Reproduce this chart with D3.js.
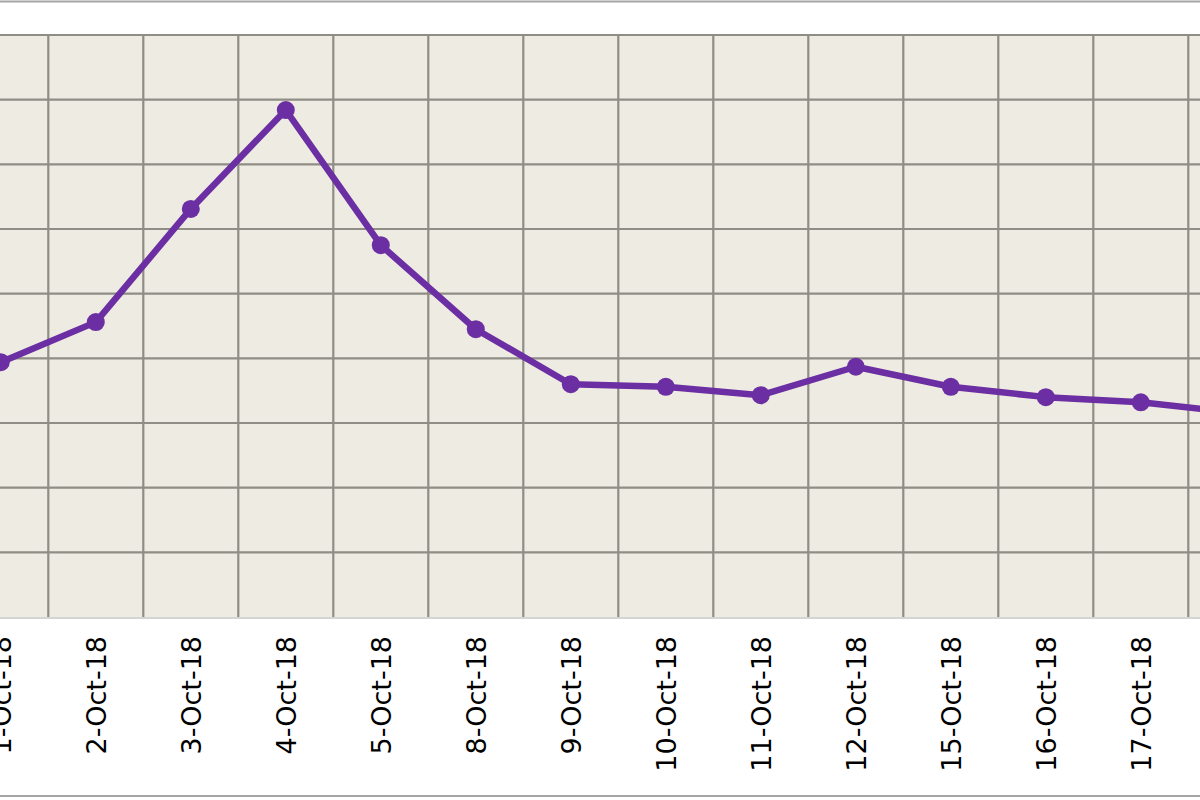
<!DOCTYPE html>
<html>
<head>
<meta charset="utf-8">
<script src="https://cdn.jsdelivr.net/npm/d3@7"></script>
<style>
  body { margin: 0; background: #fff; }
  svg { display: block; }
</style>
</head>
<body>
<div id="chart"></div>
<script>
var dates = ["1-Oct-18", "2-Oct-18", "3-Oct-18", "4-Oct-18", "5-Oct-18", "8-Oct-18", "9-Oct-18",
             "10-Oct-18", "11-Oct-18", "12-Oct-18", "15-Oct-18", "16-Oct-18", "17-Oct-18", "18-Oct-18"]
var values = [39.4, 45.6, 63.1, 78.4, 57.5, 44.5, 36.0, 35.6, 34.3, 38.7, 35.6, 34.0, 33.2, 31.6]
var yTicks = [0, 10, 20, 30, 40, 50, 60, 70, 80, 90]

var width = 1200, height = 800
var plot = {left: -46.7, right: 1283.3, top: 35, bottom: 617}

var svg = d3.select("#chart").append("svg")
    .attr("width", width)
    .attr("height", height)

// outer frame lines
svg.append("line").attr("x1", 0).attr("x2", width).attr("y1", 1.5).attr("y2", 1.5)
    .attr("stroke", "#a6a6a6").attr("stroke-width", 2)
svg.append("line").attr("x1", 0).attr("x2", width).attr("y1", 796).attr("y2", 796)
    .attr("stroke", "#a6a6a6").attr("stroke-width", 2)

var x = d3.scaleBand()
    .domain(dates)
    .range([plot.left, plot.right])
    .padding(0)

var y = d3.scaleLinear()
    .domain([0, 90])
    .range([plot.bottom, plot.top])

svg.append("rect")
    .attr("x", plot.left)
    .attr("y", plot.top)
    .attr("width", plot.right - plot.left)
    .attr("height", plot.bottom - plot.top)
    .attr("fill", "#eeece2")

// horizontal grid
svg.append("g").selectAll("line")
    .data(yTicks.slice(1))
    .join("line")
    .attr("x1", plot.left).attr("x2", plot.right)
    .attr("y1", d => y(d)).attr("y2", d => y(d))
    .attr("stroke", "#8f8d86").attr("stroke-width", 2.2)

// vertical grid at category boundaries
svg.append("g").selectAll("line")
    .data(dates.slice(1))
    .join("line")
    .attr("x1", d => x(d)).attr("x2", d => x(d))
    .attr("y1", plot.top).attr("y2", plot.bottom)
    .attr("stroke", "#8f8d86").attr("stroke-width", 2.2)

// bottom edge of plot
svg.append("line")
    .attr("x1", plot.left).attr("x2", plot.right)
    .attr("y1", plot.bottom + 1).attr("y2", plot.bottom + 1)
    .attr("stroke", "#d4d4d4").attr("stroke-width", 2)

// x axis labels (rotated)
var xAxis = svg.append("g")
    .attr("transform", "translate(0," + plot.bottom + ")")
    .call(d3.axisBottom(x).tickSize(0).tickPadding(0))
xAxis.select(".domain").remove()
xAxis.selectAll("text")
    .attr("transform", "rotate(-90)")
    .attr("x", -19)
    .attr("y", 0)
    .attr("dy", "0.36em")
    .attr("text-anchor", "end")
    .attr("fill", "#000")
    .style("font-family", "'DejaVu Sans', Verdana, sans-serif")
    .style("font-size", "27px")

var cx = d => x(d) + x.bandwidth() / 2

var line = d3.line()
    .x((d, i) => cx(dates[i]))
    .y(d => y(d))

svg.append("path")
    .datum(values)
    .attr("d", line)
    .attr("fill", "none")
    .attr("stroke", "#6c2fa3")
    .attr("stroke-width", 6.5)
    .attr("stroke-linejoin", "round")

svg.append("g").selectAll("circle")
    .data(values)
    .join("circle")
    .attr("cx", (d, i) => cx(dates[i]))
    .attr("cy", d => y(d))
    .attr("r", 9)
    .attr("fill", "#6c2fa3")
</script>
</body>
</html>
